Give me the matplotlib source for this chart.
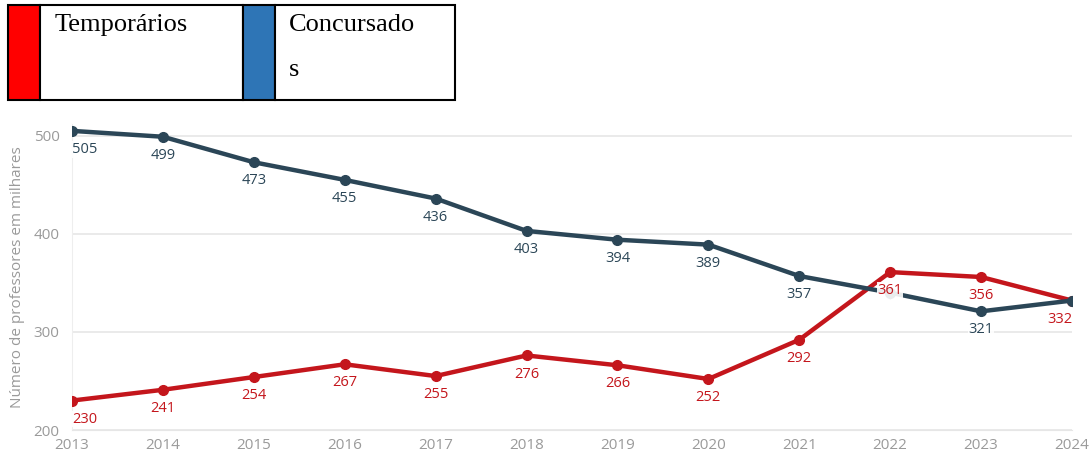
import matplotlib.pyplot as plt
from matplotlib.patches import Rectangle

# dados (milhares de professores)
anos = [2013, 2014, 2015, 2016, 2017, 2018, 2019, 2020, 2021, 2022, 2023, 2024]
temporarios = [230, 241, 254, 267, 255, 276, 266, 252, 292, 361, 356, 332]
concursados = [505, 499, 473, 455, 436, 403, 394, 389, 357, 340, 321, 332]
yticks = [200, 300, 400, 500]

cor_temp = '#C4161C'
cor_conc = '#2B4657'
cinza = '#9A9A9A'

fig = plt.figure(figsize=(10.91, 4.59), dpi=100)
ax = fig.add_axes([72 / 1091, 1 - 430 / 459, 1000 / 1091, 306 / 459])

ax.plot(anos, temporarios, color=cor_temp, lw=3.2, marker='o', ms=7, zorder=3)
ax.plot(anos, concursados, color=cor_conc, lw=3.2, marker='o', ms=7, zorder=4)


def rotulo(x, y, cor):
    ha = 'center'
    dx = 0
    if x == anos[0]:
        ha, dx = 'left', 0
    elif x == anos[-1]:
        ha, dx = 'right', 0
    ax.annotate(str(y), (x, y), xytext=(dx, -8), textcoords='offset points',
                ha=ha, va='top', color=cor, fontsize=10.5, family='Open Sans',
                zorder=6,
                bbox=dict(boxstyle='square,pad=0.05', fc='white', ec='none', alpha=0.9))


for x, y in zip(anos, concursados):
    if x in (2022, 2024):
        continue
    rotulo(x, y, cor_conc)
for x, y in zip(anos, temporarios):
    rotulo(x, y, cor_temp)

ax.set_xlim(2013, 2024)
ax.set_ylim(200, 512)
ax.set_xticks(anos)
ax.set_yticks(yticks)
ax.grid(axis='y', color='#E6E6E6', lw=1.2)
ax.set_axisbelow(True)
for s in ['top', 'right']:
    ax.spines[s].set_visible(False)
ax.spines['left'].set_color('#EEEEEE')
ax.spines['bottom'].set_color('#E6E6E6')
ax.tick_params(length=0, colors=cinza, labelsize=11)
ax.tick_params(axis='x', pad=6)
ax.tick_params(axis='y', pad=9)
for t in ax.get_xticklabels() + ax.get_yticklabels():
    t.set_family('Open Sans')
ax.set_ylabel('Número de professores em milhares', color=cinza, fontsize=11,
              family='Open Sans', labelpad=6)

# legenda em forma de tabela
def caixa(x0, x1, cor):
    fig.patches.append(Rectangle((x0 / 1091, 1 - 100 / 459), (x1 - x0) / 1091, 95 / 459,
                                 transform=fig.transFigure, fc=cor, ec='black', lw=1.5))

caixa(8, 40, '#FF0000')
caixa(40, 243, 'white')
caixa(243, 275, '#2E75B6')
caixa(275, 455, 'white')
fig.text(55 / 1091, 1 - 25 / 459, 'Temporários', family='Liberation Serif',
         fontsize=19, va='center', ha='left')
fig.text(289 / 1091, 1 - 25 / 459, 'Concursado', family='Liberation Serif',
         fontsize=19, va='center', ha='left')
fig.text(289 / 1091, 1 - 70 / 459, 's', family='Liberation Serif',
         fontsize=19, va='center', ha='left')

fig.savefig('out.png', dpi=100)
